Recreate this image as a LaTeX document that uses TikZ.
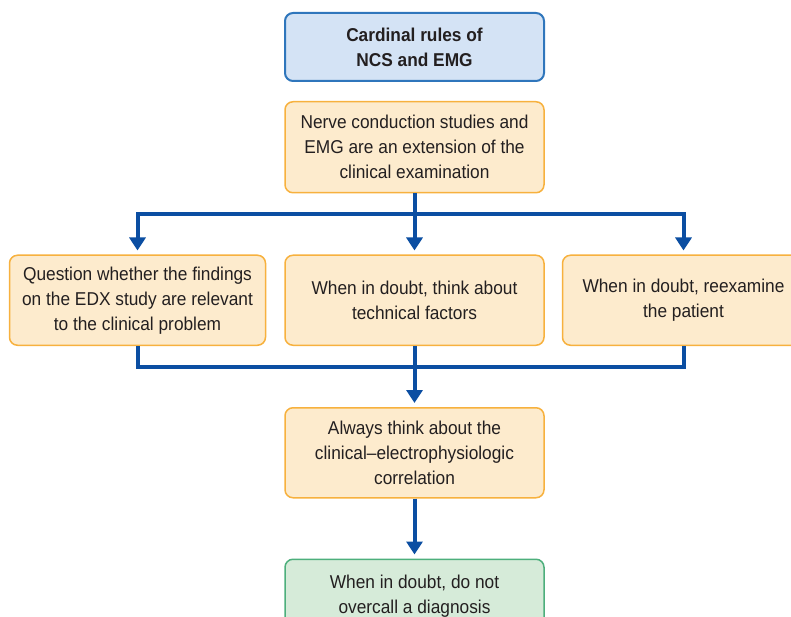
\documentclass[tikz,border=0pt]{standalone}
\usepackage{fontspec}
\setmainfont{Liberation Sans}[FakeStretch=0.93]
\usetikzlibrary{arrows.meta,positioning}
\definecolor{titlefill}{HTML}{D4E3F5}
\definecolor{titleline}{HTML}{2F76BC}
\definecolor{rulefill}{HTML}{FDEBCD}
\definecolor{ruleline}{HTML}{F7B13E}
\definecolor{endfill}{HTML}{D6EBD9}
\definecolor{endline}{HTML}{4DAF7C}
\definecolor{linkblue}{HTML}{0B4EA2}
\definecolor{ink}{HTML}{231F20}

\begin{document}
\begin{tikzpicture}[
    x=1pt,y=1pt,
    node distance=19pt,
    box/.style={draw=ruleline,fill=rulefill,line width=1.5pt,rounded corners=8pt,align=center,text=ink,font=\fontsize{18.6}{25}\selectfont,minimum width=259pt,minimum height=90pt,inner sep=4pt},
    titlebox/.style={box,draw=titleline,fill=titlefill,line width=2pt,minimum height=68pt,font=\fontsize{18.6}{25}\selectfont\bfseries},
    endbox/.style={box,draw=endline,fill=endfill,minimum height=74pt},
    link/.style={draw=linkblue,line width=4pt},
    arr/.style={link,-{Triangle[width=16pt,length=13pt]},shorten >=4pt}
]
\useasboundingbox (0,0) rectangle (791,-617);
\node[titlebox] (title) at (414.5,-47) {Cardinal rules of\\NCS and EMG};
\node[box,minimum height=91pt,below=of title] (ext) {Nerve conduction studies and\\EMG are an extension of the\\clinical examination};
\node[box,below=61pt of ext] (technical) {When in doubt, think about\\technical factors};
\node[box,minimum width=256pt,left=18pt of technical] (question) {Question whether the findings\\on the EDX study are relevant\\to the clinical problem};
\node[box,minimum width=242pt,right=17pt of technical] (reexamine) {When in doubt, reexamine\\the patient};
\node[box,below=61pt of technical] (correlation) {Always think about the\\clinical--electrophysiologic\\correlation};
\node[endbox,below=60pt of correlation] (overcall) {When in doubt, do not\\overcall a diagnosis};
\coordinate[below=21pt of ext.south] (split);
\coordinate[below=21pt of technical.south] (merge);
\draw[link] (ext.south) -- (split);
\draw[arr] (split) -- (technical.north);
\draw[arr] (split) -| (question.north);
\draw[arr] (split) -| (reexamine.north);
\draw[link] (question.south) |- (merge);
\draw[link] (reexamine.south) |- (merge);
\draw[arr] (technical.south) -- (correlation.north);
\draw[arr] (correlation.south) -- (overcall.north);
\end{tikzpicture}
\end{document}
